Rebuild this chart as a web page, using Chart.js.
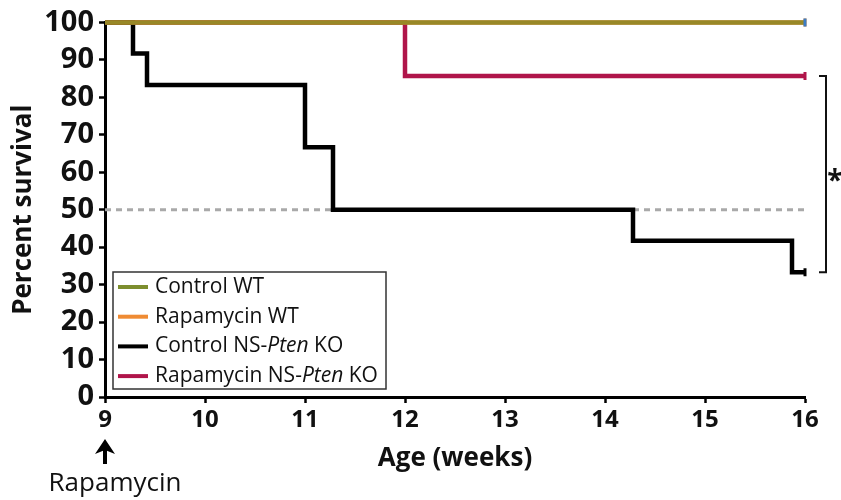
<!DOCTYPE html>
<html><head><meta charset="utf-8">
<script src="https://cdn.jsdelivr.net/npm/chart.js@4/dist/chart.umd.min.js"></script>
<style>html,body{margin:0;padding:0;background:#fff}#wrap{width:841px;height:500px;position:relative}</style>
</head><body><div id="wrap"><canvas id="c" width="841" height="500"></canvas></div>
<script>
// ---------- data ----------
const seriesNames = ['Control WT', 'Rapamycin WT', 'Control NS-Pten KO', 'Rapamycin NS-Pten KO'];
const italicWord = 'Pten';
const controlWTWeeks = [9, 16];
const controlWTSurvival = [100, 100];
const rapaWTWeeks = [9, 16];
const rapaWTSurvival = [100, 100];
const controlKOWeeks = [9, 9.28, 9.42, 11.0, 11.28, 14.28, 15.87, 16];
const controlKOSurvival = [100, 91.7, 83.3, 66.7, 50, 41.7, 33.3, 33.3];
const rapaKOWeeks = [9, 12, 16];
const rapaKOSurvival = [100, 85.7, 85.7];
const medianWeeks = [9, 16];
const medianSurvival = [50, 50];
const xTickValues = [9, 10, 11, 12, 13, 14, 15, 16];
const yTickValues = [0, 10, 20, 30, 40, 50, 60, 70, 80, 90, 100];
const xTitle = 'Age (weeks)';
const yTitle = 'Percent survival';
const treatmentWeek = 9;
const treatmentLabel = 'Rapamycin';
const significanceMark = '*';

// ---------- styles ----------
const legendColors = ['#7d8e2e', '#ef8b33', '#000000', '#b0154a'];
const lineColors = ['rgba(118,134,34,0.72)', '#ef8b33', '#000000', '#b0154a'];
const FONT = 'Open Sans';

function pts(xs, ys) { return xs.map((x, i) => ({ x: x, y: ys[i] })); }

function censor(color) {
  return {
    pointRadius: ctx => ctx.dataIndex === ctx.dataset.data.length - 1 ? 4 : 0,
    pointStyle: 'line',
    pointRotation: 90,
    pointBorderColor: color,
    pointBorderWidth: 3,
    pointHoverRadius: 0
  };
}

const LW = 4.5;
const datasets = [
  Object.assign({ label: seriesNames[0], data: pts(controlWTWeeks, controlWTSurvival), borderColor: lineColors[0], borderWidth: LW, stepped: 'before', clip: 12 }, censor('#3b7cc4')),
  Object.assign({ label: seriesNames[1], data: pts(rapaWTWeeks, rapaWTSurvival), borderColor: lineColors[1], borderWidth: LW, stepped: 'before', clip: 12 }, censor(lineColors[1])),
  Object.assign({ label: seriesNames[2], data: pts(controlKOWeeks, controlKOSurvival), borderColor: lineColors[2], borderWidth: LW, stepped: 'before', clip: 12 }, censor(lineColors[2])),
  Object.assign({ label: seriesNames[3], data: pts(rapaKOWeeks, rapaKOSurvival), borderColor: lineColors[3], borderWidth: LW, stepped: 'before', clip: 12 }, censor(lineColors[3])),
  { label: 'median', data: pts(medianWeeks, medianSurvival), borderColor: '#a9a9a9', borderWidth: 3, borderDash: [6, 5], pointRadius: 0, clip: 12 }
];

const extras = {
  id: 'extras',
  afterDraw(chart) {
    const ctx = chart.ctx, xs = chart.scales.x, ys = chart.scales.y;
    ctx.save();
    // arrow + treatment label
    const ax = xs.getPixelForValue(treatmentWeek);
    ctx.strokeStyle = '#000'; ctx.fillStyle = '#000';
    ctx.lineWidth = 4;
    ctx.beginPath(); ctx.moveTo(ax, 464); ctx.lineTo(ax, 450); ctx.stroke();
    ctx.beginPath(); ctx.moveTo(ax, 439); ctx.lineTo(ax - 10, 454); ctx.lineTo(ax, 450); ctx.lineTo(ax + 10, 454); ctx.closePath(); ctx.fill();
    ctx.font = '26px "' + FONT + '"';
    ctx.textAlign = 'center'; ctx.textBaseline = 'alphabetic';
    ctx.fillStyle = '#111';
    ctx.fillText(treatmentLabel, 115, 491);

    // significance bracket
    const yTop = ys.getPixelForValue(rapaKOSurvival[rapaKOSurvival.length - 1]);
    const yBot = ys.getPixelForValue(controlKOSurvival[controlKOSurvival.length - 1]);
    const bx = 826;
    ctx.strokeStyle = '#111'; ctx.lineWidth = 2;
    ctx.beginPath();
    ctx.moveTo(bx - 7, yTop); ctx.lineTo(bx, yTop); ctx.lineTo(bx, yBot); ctx.lineTo(bx - 7, yBot);
    ctx.stroke();
    ctx.font = 'bold 28px "' + FONT + '"';
    ctx.textAlign = 'center'; ctx.textBaseline = 'middle';
    ctx.fillStyle = '#111';
    ctx.fillText(significanceMark, 835, (yTop + yBot) / 2 + 8);

    // legend
    const lx = 113, ly = 272, lw = 273, lh = 117;
    ctx.fillStyle = '#fff';
    ctx.fillRect(lx, ly, lw, lh);
    ctx.strokeStyle = '#333'; ctx.lineWidth = 1.5;
    ctx.strokeRect(lx, ly, lw, lh);
    const rowH = 29.7;
    seriesNames.forEach((name, i) => {
      const cy = ly + 15 + rowH * i;
      ctx.strokeStyle = legendColors[i]; ctx.lineWidth = 4;
      ctx.beginPath(); ctx.moveTo(118, cy); ctx.lineTo(148, cy); ctx.stroke();
      ctx.fillStyle = '#111'; ctx.textAlign = 'left'; ctx.textBaseline = 'middle';
      let x = 155;
      const parts = name.split(italicWord);
      parts.forEach((p, k) => {
        ctx.font = '21px "' + FONT + '"';
        ctx.fillText(p, x, cy); x += ctx.measureText(p).width;
        if (k < parts.length - 1) {
          ctx.font = 'italic 21px "' + FONT + '"';
          ctx.fillText(italicWord, x, cy); x += ctx.measureText(italicWord).width;
        }
      });
    });
    ctx.restore();
  }
};

new Chart(document.getElementById('c'), {
  type: 'line',
  data: { datasets: datasets },
  options: {
    responsive: false,
    animation: false,
    layout: { padding: { top: 22, right: 36, left: 0, bottom: 0 } },
    plugins: { legend: { display: false }, tooltip: { enabled: false } },
    scales: {
      x: {
        type: 'linear', min: xTickValues[0], max: xTickValues[xTickValues.length - 1],
        afterBuildTicks: s => { s.ticks = xTickValues.map(v => ({ value: v })); },
        afterFit: s => { s.height = 103; },
        border: { display: true, color: '#000', width: 3 },
        grid: { drawOnChartArea: false, drawTicks: true, tickLength: 6, tickColor: '#000', tickWidth: 2.5 },
        ticks: { color: '#111', font: { family: FONT, weight: 'bold', size: 24 }, padding: 3, maxRotation: 0, autoSkip: false },
        title: { display: true, text: xTitle, color: '#111', font: { family: FONT, weight: 'bold', size: 26 }, padding: { top: 0, bottom: 26 } }
      },
      y: {
        type: 'linear', min: yTickValues[0], max: yTickValues[yTickValues.length - 1],
        afterBuildTicks: s => { s.ticks = yTickValues.map(v => ({ value: v })); },
        afterFit: s => { s.width = 105; },
        border: { display: true, color: '#000', width: 3 },
        grid: { drawOnChartArea: false, drawTicks: true, tickLength: 6, tickColor: '#000', tickWidth: 2.5 },
        ticks: { color: '#111', font: { family: FONT, weight: 'bold', size: 29 }, padding: 5, autoSkip: false },
        title: { display: true, text: yTitle, color: '#111', font: { family: FONT, weight: 'bold', size: 26 }, padding: { top: 8, bottom: 0 } }
      }
    }
  },
  plugins: [extras]
});
</script>
</body></html>
